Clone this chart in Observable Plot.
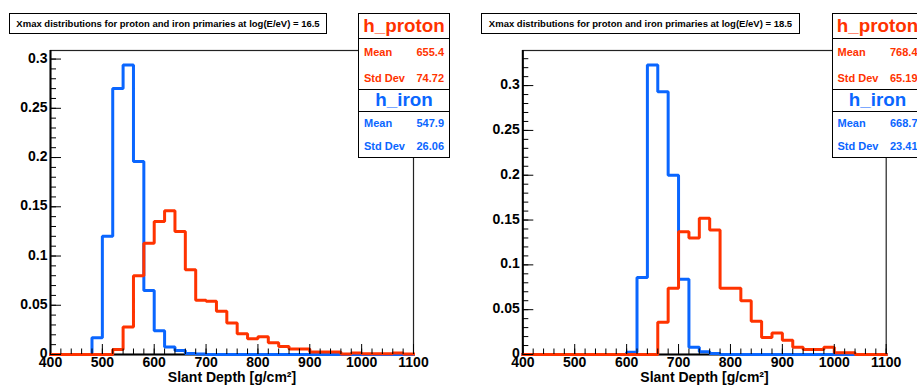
<!DOCTYPE html>
<html>
<head>
<meta charset="utf-8">
<script src="https://cdn.jsdelivr.net/npm/d3@7"></script>
<script src="https://cdn.jsdelivr.net/npm/@observablehq/plot@0.6"></script>
<style>
  body { margin: 0; background: #fff; }
  #page { position: relative; width: 917px; height: 385px; overflow: hidden; background: #fff;
          font-family: "Liberation Sans", Arial, Helvetica, sans-serif; }
  .panel { position: absolute; top: 0; }
  .title { position: absolute; top: 13px; height: 21px; box-sizing: border-box; border: 1px solid #000;
           background: #fff; font-size: 9.5px; font-weight: bold; line-height: 19px; text-align: center;
           white-space: nowrap; color: #000; }
  .stats { position: absolute; top: 13px; width: 92px; height: 145px; box-sizing: border-box;
           border: 1px solid #000; background: #fff; }
  .stats .name { position: absolute; left: 0; right: 0; text-align: center; font-size: 18.8px; font-weight: bold;
                 white-space: nowrap; }
  .stats .sep { position: absolute; left: 0; right: 0; height: 0; border-top: 1px solid #000; }
  .stats .row { position: absolute; left: 5px; right: 5px; height: 14px; line-height: 14px; font-size: 11px;
                font-weight: bold; display: flex; justify-content: space-between; white-space: nowrap; }
</style>
</head>
<body>
<div id="page"></div>
<script>
// Xmax histograms: fraction of showers per 20 g/cm^2 bin, from 400 to 1100 g/cm^2
const binStart = 400;
const binWidth = 20;
const energies = ["16.5", "18.5"];
const histNames = ["h_proton", "h_iron"];

// log(E/eV) = 16.5
const protonLow = [0, 0, 0, 0, 0, 0, 0.005, 0.028, 0.080, 0.113, 0.135, 0.146, 0.125, 0.086, 0.055, 0.054,
  0.044, 0.032, 0.021, 0.016, 0.018, 0.012, 0.008, 0.0057, 0.0057, 0.0025, 0.0025, 0.0025, 0.0005, 0.0015,
  0.0007, 0.0007, 0.0007, 0.0015, 0.0004];
const ironLow = [0, 0, 0, 0, 0.017, 0.120, 0.270, 0.294, 0.196, 0.065, 0.024, 0.0075, 0.004, 0.001, 0.0005,
  0, 0, 0, 0, 0, 0, 0, 0, 0, 0, 0, 0, 0, 0, 0, 0, 0, 0, 0, 0];

// log(E/eV) = 18.5
const protonHigh = [0, 0, 0, 0, 0, 0, 0, 0, 0, 0, 0, 0, 0, 0.036, 0.074, 0.137, 0.130, 0.152, 0.139, 0.074,
  0.074, 0.060, 0.037, 0.019, 0.024, 0.016, 0.008, 0.0055, 0.0055, 0.008, 0.002, 0.002, 0, 0, 0];
const ironHigh = [0, 0, 0, 0, 0, 0, 0, 0, 0, 0, 0.0026, 0.086, 0.323, 0.293, 0.200, 0.084, 0.008, 0.003, 0.001,
  0, 0, 0, 0, 0, 0, 0, 0, 0, 0, 0, 0, 0, 0, 0, 0];

// statistics boxes: [proton, iron]
const meanLow = [655.4, 547.9];
const stdLow = [74.72, 26.06];
const meanHigh = [768.4, 668.7];
const stdHigh = [65.19, 23.41];

// axis ticks
const xLabels = [400, 500, 600, 700, 800, 900, 1000, 1100];
const yLabels = [0, 0.05, 0.1, 0.15, 0.2, 0.25, 0.3];

const RED = "#ff3300";
const BLUE = "#0a66ff";
const FONT = "'Liberation Sans', Arial, Helvetica, sans-serif";

// step outline: one point per bin low edge plus the closing edge
function outline(values) {
  const pts = values.map((v, i) => ({x: binStart + i * binWidth, y: v}));
  pts.push({x: binStart + values.length * binWidth, y: values[values.length - 1]});
  return pts;
}

function histPanel(proton, iron, opts) {
  const ymax = Math.max(d3.max(proton), d3.max(iron)) * 1.05;
  const xMinor = d3.range(400, 1101, 20);
  const yMinor = d3.range(0, ymax, 0.01);
  const line = {x: "x", y: "y", curve: "step-after", strokeWidth: 3, strokeLinejoin: "miter", strokeLinecap: "square"};
  return Plot.plot({
    width: opts.width,
    height: 385,
    marginLeft: opts.marginLeft,
    marginRight: opts.marginRight,
    marginTop: 50,
    marginBottom: 31,
    x: {domain: [400, 1100]},
    y: {domain: [0, ymax]},
    style: {fontFamily: FONT, fontSize: "14px", fontWeight: "bold", color: "#000", background: "transparent", overflow: "visible"},
    marks: [
      Plot.frame({stroke: "#222", strokeWidth: 1.2}),
      Plot.ruleY([0], {stroke: "#000", strokeWidth: 2}),
      Plot.ruleX([400], {stroke: "#000", strokeWidth: 2}),
      Plot.line(outline(iron), {...line, stroke: BLUE}),
      Plot.line(outline(proton), {...line, stroke: RED}),
      Plot.axisX({ticks: xMinor, tickSize: -5.5, text: null, label: null, stroke: "#000"}),
      Plot.axisX({ticks: xLabels, tickSize: -10, text: null, label: null, stroke: "#000"}),
      Plot.axisX({ticks: xLabels, tickSize: 0, tickPadding: 3, label: null, tickFormat: d => String(d)}),
      Plot.axisY({ticks: yMinor, tickSize: -6, text: null, label: null, stroke: "#000"}),
      Plot.axisY({ticks: yLabels, tickSize: -11, text: null, label: null, stroke: "#000"}),
      Plot.axisY({ticks: yLabels, tickSize: 0, tickPadding: 3, label: null, tickFormat: d => String(d), dy: -1}),
      Plot.text(["Slant Depth [g/cm²]"], {frameAnchor: "bottom", dy: 23, fontSize: 14, fontWeight: "bold", lineAnchor: "middle"})
    ]
  });
}

function titleBox(left, width, energy) {
  const el = document.createElement("div");
  el.className = "title";
  el.style.left = left + "px";
  el.style.width = width + "px";
  el.textContent = `Xmax distributions for proton and iron primaries at log(E/eV) = ${energy}`;
  return el;
}

function statsBox(left, means, stds) {
  const el = document.createElement("div");
  el.className = "stats";
  el.style.left = left + "px";
  el.innerHTML = `
    <div class="name" style="top:-1.4px;height:25px;line-height:25px;color:${RED}">${histNames[0]}</div>
    <div class="sep" style="top:24px"></div>
    <div class="row" style="top:31px;color:${RED}"><span>Mean</span><span>${means[0]}</span></div>
    <div class="row" style="top:56.5px;color:${RED}"><span>Std Dev</span><span>${stds[0]}</span></div>
    <div class="sep" style="top:75px"></div>
    <div class="name" style="top:75.3px;height:22.4px;line-height:22.4px;color:${BLUE}">${histNames[1]}</div>
    <div class="sep" style="top:97.4px"></div>
    <div class="row" style="top:102px;color:${BLUE}"><span>Mean</span><span>${means[1]}</span></div>
    <div class="row" style="top:125px;color:${BLUE}"><span>Std Dev</span><span>${stds[1]}</span></div>`;
  return el;
}

const page = document.getElementById("page");

const left = histPanel(protonLow, ironLow, {width: 458, marginLeft: 50, marginRight: 45});
left.classList.add("panel");
left.style.left = "0px";
page.appendChild(left);

const right = histPanel(protonHigh, ironHigh, {width: 459, marginLeft: 64.3, marginRight: 31.3});
right.classList.add("panel");
right.style.left = "458px";
page.appendChild(right);

page.appendChild(titleBox(9, 318, energies[0]));
page.appendChild(titleBox(481, 319, energies[1]));
page.appendChild(statsBox(358, meanLow, stdLow));
page.appendChild(statsBox(831.5, meanHigh, stdHigh));
</script>
</body>
</html>
